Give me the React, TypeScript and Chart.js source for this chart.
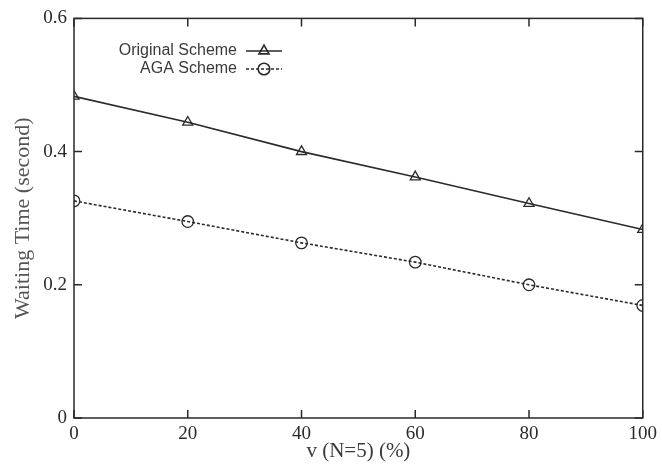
import React, { useEffect, useRef } from 'react';
import { Chart, registerables } from 'chart.js';

Chart.register(...registerables);

const xValues = [0, 20, 40, 60, 80, 100];
const originalScheme = [0.483, 0.444, 0.4, 0.362, 0.322, 0.283];
const agaScheme = [0.326, 0.295, 0.263, 0.234, 0.2, 0.169];
const xTicks = [0, 20, 40, 60, 80, 100];
const yTicks = [0, 0.2, 0.4, 0.6];
const seriesNames = ['Original Scheme', 'AGA Scheme'];
const xTitle = 'v (N=5) (%)';
const yTitle = 'Waiting Time (second)';

const SERIF = '"Liberation Serif", "DejaVu Serif", serif';
const SANS = '"Liberation Sans", Arial, sans-serif';
const INK = '#2a2a2a';

function drawMarker(ctx: CanvasRenderingContext2D, style: string, x: number, y: number, r: number) {
  ctx.beginPath();
  if (style === 'triangle') {
    let rad = 0;
    ctx.moveTo(x + Math.sin(rad) * r, y - Math.cos(rad) * r);
    rad += (2 * Math.PI) / 3;
    ctx.lineTo(x + Math.sin(rad) * r, y - Math.cos(rad) * r);
    rad += (2 * Math.PI) / 3;
    ctx.lineTo(x + Math.sin(rad) * r, y - Math.cos(rad) * r);
    ctx.closePath();
  } else {
    ctx.arc(x, y, r, 0, Math.PI * 2);
  }
  ctx.stroke();
}

const framePlugin = {
  id: 'gnuFrame',
  beforeDatasetsDraw(chart: any) {
    const { ctx, chartArea: a, scales } = chart;
    ctx.save();
    ctx.strokeStyle = INK;
    ctx.lineWidth = 1.5;
    ctx.setLineDash([]);
    ctx.strokeRect(a.left, a.top, a.right - a.left, a.bottom - a.top);
    const tl = 8;
    ctx.beginPath();
    xTicks.forEach((v) => {
      const px = scales.x.getPixelForValue(v);
      ctx.moveTo(px, a.bottom);
      ctx.lineTo(px, a.bottom - tl);
      ctx.moveTo(px, a.top);
      ctx.lineTo(px, a.top + tl);
    });
    yTicks.forEach((v) => {
      const py = scales.y.getPixelForValue(v);
      ctx.moveTo(a.left, py);
      ctx.lineTo(a.left + tl, py);
      ctx.moveTo(a.right, py);
      ctx.lineTo(a.right - tl, py);
    });
    ctx.stroke();
    ctx.restore();
  },
};

const legendPlugin = {
  id: 'gnuLegend',
  afterDraw(chart: any) {
    const { ctx } = chart;
    const textRight = 237;
    const lineL = 246;
    const lineR = 282;
    const rows = [51, 69];
    ctx.save();
    chart.data.datasets.forEach((ds: any, i: number) => {
      const y = rows[i];
      ctx.font = `16px ${SANS}`;
      ctx.fillStyle = '#3a3a3a';
      ctx.textAlign = 'right';
      ctx.textBaseline = 'middle';
      ctx.fillText(ds.label, textRight, y);
      ctx.strokeStyle = ds.borderColor;
      ctx.lineWidth = ds.borderWidth;
      ctx.setLineDash(ds.borderDash || []);
      ctx.beginPath();
      ctx.moveTo(lineL, y);
      ctx.lineTo(lineR, y);
      ctx.stroke();
      ctx.setLineDash([]);
      drawMarker(ctx, ds.pointStyle, (lineL + lineR) / 2, y, ds.pointRadius);
    });
    ctx.restore();
  },
};

export default function App() {
  const ref = useRef<HTMLCanvasElement | null>(null);

  useEffect(() => {
    document.body.style.margin = '0';
    const canvas = ref.current;
    if (!canvas) return;
    const chart = new Chart(canvas, {
      type: 'line',
      data: {
        datasets: [
          {
            label: seriesNames[0],
            data: xValues.map((x, i) => ({ x, y: originalScheme[i] })),
            borderColor: INK,
            borderWidth: 1.6,
            pointStyle: 'triangle',
            pointRadius: 5.8,
            pointBorderWidth: 1.3,
            pointBorderColor: INK,
            pointBackgroundColor: 'rgba(0,0,0,0)',
            fill: false,
            tension: 0,
          },
          {
            label: seriesNames[1],
            data: xValues.map((x, i) => ({ x, y: agaScheme[i] })),
            borderColor: INK,
            borderWidth: 1.6,
            borderDash: [3, 2],
            pointStyle: 'circle',
            pointRadius: 5.8,
            pointBorderWidth: 1.3,
            pointBorderColor: INK,
            pointBackgroundColor: 'rgba(0,0,0,0)',
            fill: false,
            tension: 0,
          },
        ],
      },
      options: {
        animation: false,
        responsive: false,
        maintainAspectRatio: false,
        events: [],
        layout: { padding: { top: 16, right: 17, left: 0, bottom: 0 } },
        plugins: {
          legend: { display: false },
          tooltip: { enabled: false },
        },
        scales: {
          x: {
            type: 'linear',
            min: 0,
            max: 100,
            afterFit: (s: any) => {
              s.height = 50;
            },
            afterBuildTicks: (s: any) => {
              s.ticks = xTicks.map((v) => ({ value: v }));
            },
            grid: { display: false, drawTicks: false },
            border: { display: false },
            ticks: {
              padding: 5,
              autoSkip: false,
              maxRotation: 0,
              color: INK,
              font: { family: SERIF, size: 19 },
              callback: (v: any) => String(v),
            },
            title: {
              display: true,
              text: xTitle,
              color: '#3a3a3a',
              font: { family: SERIF, size: 21 },
              padding: { top: 0, bottom: 4 },
            },
          },
          y: {
            type: 'linear',
            min: 0,
            max: 0.6,
            afterFit: (s: any) => {
              s.width = 74;
            },
            afterBuildTicks: (s: any) => {
              s.ticks = yTicks.map((v) => ({ value: v }));
            },
            grid: { display: false, drawTicks: false },
            border: { display: false },
            ticks: {
              padding: 7,
              autoSkip: false,
              color: INK,
              font: { family: SERIF, size: 19 },
              callback: (v: any) => (v === 0 ? '0' : Number(v).toFixed(1)),
            },
            title: {
              display: true,
              text: yTitle,
              color: '#555555',
              font: { family: SERIF, size: 22 },
              padding: { top: 10, bottom: 0 },
            },
          },
        },
      },
      plugins: [framePlugin, legendPlugin],
    });
    return () => chart.destroy();
  }, []);

  return (
    <div style={{ position: 'fixed', left: 0, top: 0, width: 662, height: 468, background: '#fff' }}>
      <canvas ref={ref} width={662} height={468} style={{ display: 'block' }} />
    </div>
  );
}
